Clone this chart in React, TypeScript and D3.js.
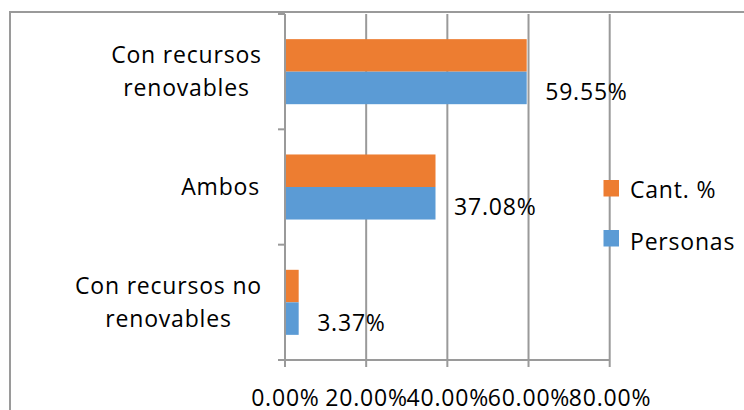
import React from "react";
import * as d3 from "d3";

const categories = ["Con recursos renovables", "Ambos", "Con recursos no renovables"];
const categoryLines = [["Con recursos", "renovables"], ["Ambos"], ["Con recursos no", "renovables"]];
const seriesNames = ["Cant. %", "Personas"];
const cantValues = [59.55, 37.08, 3.37];
const personasValues = [59.55, 37.08, 3.37];
const xTicks = [0, 20, 40, 60, 80];
const colors = ["#ED7D31", "#5B9BD5"];

const W = 744;
const H = 410;
const FONT = "'Open Sans', 'Noto Sans', sans-serif";
const LS = 0.8;

export default function App() {
  const x = d3.scaleLinear().domain([0, 80]).range([285, 609.7]);
  const y = d3.scaleBand<string>().domain(categories).range([14, 360]).paddingInner(0.436).paddingOuter(0.218);
  const ys = d3.scaleBand<string>().domain(seriesNames).range([0, y.bandwidth()]);
  const seriesValues = [cantValues, personasValues];
  const step = y.step();
  const gridColor = "#9a9a9a";

  return (
    <svg width={W} height={H} style={{ position: "absolute", left: 0, top: 0, background: "#fff" }} fontFamily={FONT}>
      <rect x={10} y={12} width={900} height={600} fill="#fff" stroke={gridColor} strokeWidth={2} />
      {/* gridlines */}
      {xTicks.slice(1).map((t) => (
        <line key={"g" + t} x1={x(t)} x2={x(t)} y1={14} y2={367} stroke={gridColor} strokeWidth={2} />
      ))}
      {/* bars */}
      {categories.map((c, i) => (
        <g key={c}>
          {seriesNames.map((s, j) => (
            <rect
              key={s}
              x={x(0)}
              y={(y(c) as number) + (ys(s) as number)}
              width={x(seriesValues[j][i]) - x(0)}
              height={ys.bandwidth()}
              fill={colors[j]}
            />
          ))}
        </g>
      ))}
      {/* y axis */}
      <line x1={x(0)} x2={x(0)} y1={14} y2={367} stroke={gridColor} strokeWidth={2} />
      {[0, 1, 2, 3].map((k) => (
        <line key={"yt" + k} x1={278} x2={x(0)} y1={14 + k * step} y2={14 + k * step} stroke={gridColor} strokeWidth={2} />
      ))}
      {/* x axis */}
      <line x1={278} x2={x(80)} y1={360} y2={360} stroke={gridColor} strokeWidth={2} />
      {xTicks.map((t) => (
        <text key={"xl" + t} x={x(t) + LS / 2} y={405.5} textAnchor="middle" fontSize={23} letterSpacing={LS} fill="#000">
          {t.toFixed(2) + "%"}
        </text>
      ))}
      {/* category labels */}
      {categories.map((c, i) => {
        const lines = categoryLines[i];
        const cy = (y(c) as number) + y.bandwidth() / 2;
        const lh = 33;
        const first = cy - ((lines.length - 1) * lh) / 2 + 8;
        return (
          <text
            key={"cl" + c}
            fontSize={23}
            letterSpacing={LS}
            fill="#000"
            textAnchor={lines.length > 1 ? "middle" : "end"}
          >
            {lines.map((l, k) => (
              <tspan key={k} x={lines.length > 1 ? (i === 0 ? 186.5 : 168.5) : 260} y={first + k * lh}>
                {l}
              </tspan>
            ))}
          </text>
        );
      })}
      {/* data labels */}
      {categories.map((c, i) => (
        <text
          key={"dl" + c}
          x={x(personasValues[i]) + 18.5}
          y={(y(c) as number) + (ys("Personas") as number) + ys.bandwidth() / 2 + 12}
          fontSize={23}
          letterSpacing={LS}
          fill="#000"
        >
          {personasValues[i].toFixed(2) + "%"}
        </text>
      ))}
      {/* legend */}
      {seriesNames.map((s, j) => (
        <g key={"lg" + s}>
          <rect x={603.5} y={180 + j * 50} width={15.5} height={16.5} fill={colors[j]} />
          <text x={630} y={198 + j * 52} fontSize={23} letterSpacing={LS} fill="#000">
            {s}
          </text>
        </g>
      ))}
    </svg>
  );
}
